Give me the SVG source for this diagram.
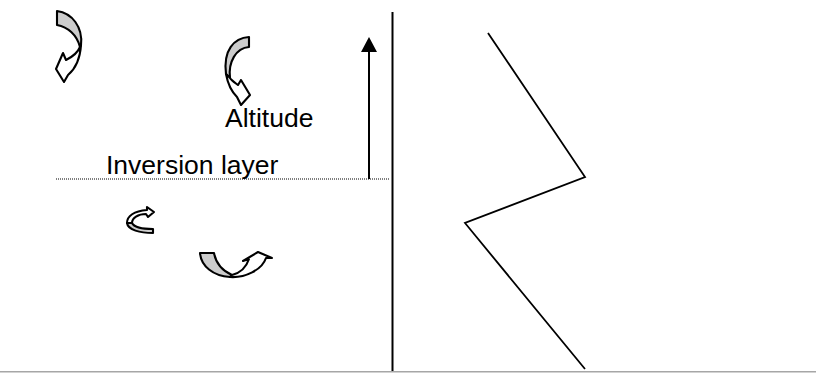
<svg xmlns="http://www.w3.org/2000/svg" width="816" height="373" viewBox="0 0 816 373">
<style>
.band{fill:#cccccc;stroke:#000;stroke-width:2.1;stroke-linejoin:round}
.front{fill:#fff;stroke:#000;stroke-width:2.1;stroke-linejoin:round}
.lbl{font-family:"Liberation Sans",Arial,sans-serif;font-size:26.5px;fill:#000}
.ln{stroke:#000;stroke-width:2;fill:none}
</style>
<rect width="816" height="373" fill="#fff"/>
<g id="curl-top-left">
<path class="band" d="M57,11 C72,13 83,27 81,45 L80,47 C77,35 68,27 57,25 Z"/>
<path class="front" d="M81,45 C80,60 74,70 68,75 L64,82 L56,69 L63,53 L66,60 C72,57 78,52 80,47 Z"/>
</g>
<g id="curl-altitude">
<path class="band" d="M249,37 L249,47 C236,48 228,62 230,78 L226,74 C223,50 234,38 249,37 Z"/>
<path class="front" d="M226,74 C228,85 232,92 237,97 L241,105 L250,95 L241,80 L238,85 C234,82 231,80 230,78 Z"/>
</g>
<g id="curl-small">
<path class="band" d="M153,229 L153,233 C140,233 128,230 127,223 L132,223 C134,227 143,229 153,229 Z"/>
<path class="front" d="M127,223 C127,216 134,211 147,210 L147,207 L154,212 L148,217 L146,214 C138,214 132,218 132,223 Z"/>
</g>
<g id="curl-bottom">
<path class="band" d="M200,253 L214,253 C216,264 223,271 232,275 L230,277 C213,276 201,266 200,253 Z"/>
<path class="front" d="M230,277 C245,278 262,270 266,258 L272,258 L258,252 L243,261 L249,259 C246,268 240,273 232,275 Z"/>
</g>
<g id="label-altitude"><text class="lbl" x="225" y="127">Altitude</text></g>
<g id="label-inversion"><text class="lbl" x="106" y="174">Inversion layer</text></g>
<g id="connectors">
<line x1="56" y1="179" x2="390" y2="179" stroke="#000" stroke-width="1.1" stroke-dasharray="1 1"/>
<line class="ln" x1="369" y1="179" x2="369" y2="50"/>
<polygon points="369,37 361,52 377,52" fill="#000"/>
<line class="ln" x1="392.5" y1="12" x2="392.5" y2="372"/>
<polyline fill="none" stroke="#000" stroke-width="1.8" stroke-linejoin="miter" points="488,33 585,177 465,223 585,369"/>
<line x1="0" y1="371.8" x2="816" y2="371.8" stroke="#a6a6a6" stroke-width="1.5"/>
</g>
</svg>
